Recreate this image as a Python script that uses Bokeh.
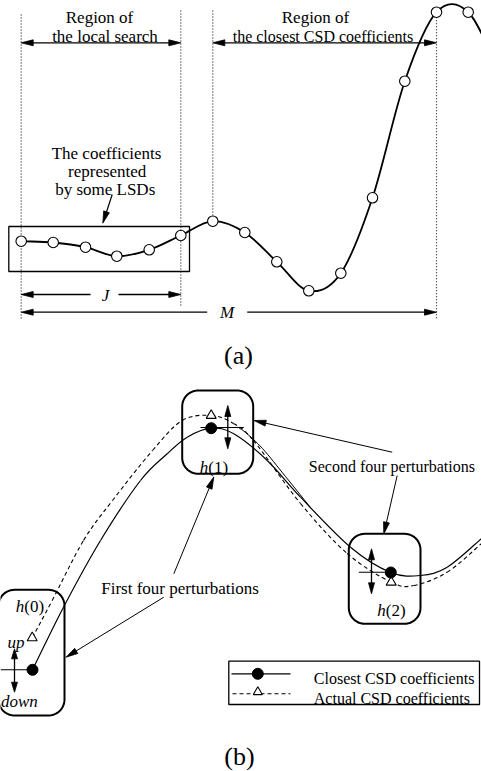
import numpy as np
from bokeh.plotting import figure
from bokeh.models import Range1d
from bokeh.core.properties import value
from bokeh.embed import file_html
from bokeh.resources import INLINE

W, H = 481, 771
FONT = value("Liberation Serif")

# ---------------- Panel (a): coefficient values (pixel space of the diagram) -------------
coef_x = [20.7, 52.7, 85.0, 116.3, 148.7, 180.3, 212.3, 244.3, 276.3, 308.3, 340.3, 372.0, 404.3, 436.0, 467.7]
coef_y = [240.7, 242.0, 246.7, 255.7, 249.3, 235.0, 220.7, 232.0, 261.3, 290.3, 272.7, 197.3, 80.7, 11.7, 11.7]
tail_x = [499.4]          # continuation of the curve past the right edge
tail_y = [72.0]

# ---------------- Panel (b): traced curves -------------------------------------------------
closest_x = [32.0, 63.0, 100.0, 140.0, 166.7, 186.7, 210.7, 233.3, 266.7, 300.0, 350.0, 390.3, 420.0, 446.7, 481.0, 500.0]
closest_y = [669.3, 606.7, 540.0, 480.0, 453.3, 436.7, 427.7, 433.3, 460.0, 496.7, 546.7, 572.0, 575.0, 566.7, 538.0, 520.0]
actual_x = [31.7, 51.7, 83.0, 112.0, 152.0, 181.7, 210.7, 233.0, 253.0, 300.0, 346.7, 390.7, 413.3, 446.7, 481.0, 500.0]
actual_y = [637.3, 600.0, 540.0, 500.0, 450.0, 420.0, 415.0, 423.0, 440.0, 503.0, 553.0, 581.7, 585.0, 571.7, 543.0, 525.0]
second_x = [238.0, 245.0, 262.0, 285.0, 310.0]
second_y = [427.0, 432.0, 448.0, 476.0, 507.0]

# h(k) points: closest (dots) and actual (triangles)
h_dot_x = [32.0, 210.7, 390.3]
h_dot_y = [669.3, 427.7, 572.0]
h_tri_x = [31.7, 210.7, 390.7]
h_tri_y = [637.3, 415.0, 581.7]
h_names = ["0", "1", "2"]


def smooth(xs, ys):
    """Catmull-Rom -> cubic bezier control points."""
    xs = np.asarray(xs, float)
    ys = np.asarray(ys, float)
    px = np.concatenate([[2 * xs[0] - xs[1]], xs, [2 * xs[-1] - xs[-2]]])
    py = np.concatenate([[2 * ys[0] - ys[1]], ys, [2 * ys[-1] - ys[-2]]])
    return dict(
        x0=px[1:-2], y0=py[1:-2], x1=px[2:-1], y1=py[2:-1],
        cx0=px[1:-2] + (px[2:-1] - px[0:-3]) / 6, cy0=py[1:-2] + (py[2:-1] - py[0:-3]) / 6,
        cx1=px[2:-1] - (px[3:] - px[1:-2]) / 6, cy1=py[2:-1] - (py[3:] - py[1:-2]) / 6,
    )


def head(tx, ty, fx, fy, L=12.0, hw=3.0):
    dx, dy = tx - fx, ty - fy
    d = np.hypot(dx, dy)
    ux, uy = dx / d, dy / d
    bx, by = tx - L * ux, ty - L * uy
    return [tx, bx - hw * uy, bx + hw * uy], [ty, by + hw * ux, by - hw * ux]


def rounded(x0, x1, y0, y1, r, n=14):
    xs, ys = [], []
    for cx, cy, a0, a1 in [(x1 - r, y0 + r, -90, 0), (x1 - r, y1 - r, 0, 90),
                           (x0 + r, y1 - r, 90, 180), (x0 + r, y0 + r, 180, 270)]:
        t = np.radians(np.linspace(a0, a1, n))
        xs.extend(cx + r * np.cos(t))
        ys.extend(cy + r * np.sin(t))
    xs.append(xs[0]); ys.append(ys[0])
    return xs, ys


p = figure(width=W, height=H, x_range=Range1d(0, W), y_range=Range1d(H, 0),
           output_backend="svg", toolbar_location=None, min_border=0,
           x_axis_location=None, y_axis_location=None)
p.xgrid.visible = False
p.ygrid.visible = False
p.outline_line_color = None
p.background_fill_color = "white"
p.border_fill_color = "white"
p.styles = {"position": "absolute", "left": "0px", "top": "0px"}

BODY = "16px"
SMALL = "17px"


def txt(x, y, s, size=BODY, align="center", baseline="alphabetic", style="normal"):
    p.text(x=[x], y=[y], text=[s], text_font=FONT, text_font_size=size,
           text_align=align, text_baseline=baseline, text_font_style=style, text_color="black")


def arrow(fx, fy, tx, ty, width=1.3, double=False, L=12.0, hw=3.0):
    sx0, sy0 = fx, fy
    d = np.hypot(tx - fx, ty - fy)
    ux, uy = (tx - fx) / d, (ty - fy) / d
    sx1, sy1 = tx - ux * L * 0.5, ty - uy * L * 0.5
    heads_x, heads_y = [], []
    hx, hy = head(tx, ty, fx, fy, L, hw)
    heads_x.append(hx); heads_y.append(hy)
    if double:
        sx0, sy0 = fx + ux * L * 0.5, fy + uy * L * 0.5
        hx, hy = head(fx, fy, tx, ty, L, hw)
        heads_x.append(hx); heads_y.append(hy)
    p.segment(x0=[sx0], y0=[sy0], x1=[sx1], y1=[sy1], line_color="black", line_width=width)
    p.patches(xs=heads_x, ys=heads_y, fill_color="black", line_color="black", line_width=0.8)


# ======================= Panel (a) =======================
p.segment(x0=[coef_x[0], coef_x[5], coef_x[6], coef_x[13]],
          y0=[14, 10, 10, coef_y[13] + 5],
          x1=[coef_x[0], coef_x[5], coef_x[6], coef_x[13]],
          y1=[318, 305, coef_y[6] - 6, 319],
          line_color="#222222", line_width=1.2, line_dash="1 2")

cv = smooth(coef_x + tail_x, coef_y + tail_y)
p.bezier(line_color="black", line_width=1.8, **cv)
p.scatter(coef_x, coef_y, marker="circle", size=10.5, fill_color="white",
          line_color="black", line_width=1.1)

p.quad(left=[8.3], right=[189.0], top=[226.0], bottom=[271.0], fill_color=None,
       line_color="black", line_width=1.3)

arrow(coef_x[0], 42.3, coef_x[5], 42.3, double=True)
arrow(coef_x[6], 42.3, coef_x[13], 42.3, double=True)
txt(99, 17.3, "Region of", size=SMALL)
txt(104.5, 35.5, "the local search", size=SMALL)
txt(315, 17.3, "Region of", size=SMALL)
txt(322.5, 35.5, "the closest CSD coefficients")

txt(106, 153.3, "The coefficients", size=SMALL)
txt(106.7, 171.3, "represented", size=SMALL)
txt(104.7, 189.3, "by some LSDs", size=SMALL)
arrow(111.7, 194.0, 102.3, 222.7, width=1.2)

arrow(90.0, 294.0, coef_x[0], 294.0)
arrow(118.0, 294.0, coef_x[5], 294.0)
txt(105, 294.5, "J", size=SMALL, baseline="middle", style="italic")
arrow(206.7, 311.7, coef_x[0], 311.7)
arrow(246.7, 311.7, coef_x[13], 311.7)
txt(226.7, 312.0, "M", size=SMALL, baseline="middle", style="italic")

txt(238, 355, "(a)", size="26px")

# ======================= Panel (b) =======================
p.bezier(line_color="black", line_width=1.2, **smooth(closest_x, closest_y))
p.bezier(line_color="black", line_width=1.1, line_dash="4 3", **smooth(actual_x, actual_y))
p.bezier(line_color="black", line_width=1.0, **smooth(second_x, second_y))

p.segment(x0=[0.0, 200.0, 358.3], y0=[h_dot_y[0], 427.0, 571.7],
          x1=[h_dot_x[0], 243.3, h_dot_x[2]], y1=[h_dot_y[0], 427.0, 571.7],
          line_color="black", line_width=1.1)

boxes = [(-2.0, 64.0, 589.3, 715.0), (181.7, 252.7, 390.0, 473.3), (348.3, 420.0, 533.3, 623.3)]
bx, by = [], []
for b in boxes:
    xs, ys = rounded(*b, r=16)
    bx.append(xs); by.append(ys)
p.multi_line(xs=bx, ys=by, line_color="black", line_width=2.0)

arrow(14.0, 669.3, 14.0, 648.3, L=10, hw=3)
arrow(14.0, 669.3, 14.0, 691.7, L=10, hw=3)
arrow(227.3, 405.0, 227.3, 448.3, double=True, L=11, hw=3)
arrow(371.0, 548.3, 371.0, 593.3, double=True, L=11, hw=3)

p.scatter(h_tri_x, h_tri_y, marker="triangle", size=10, fill_color="white",
          line_color="black", line_width=1.1)
p.scatter(h_dot_x, h_dot_y, marker="circle", size=11, fill_color="black", line_color="black")

h_lab_x = [29.3, 213.3, 390.8]
h_lab_y = [606.0, 467.3, 610.0]
for lx, ly, nm in zip(h_lab_x, h_lab_y, h_names):
    txt(lx - 5.5, ly, "h", size=SMALL, align="right", style="italic")
    txt(lx - 5.5, ly, "(" + nm + ")", size=SMALL, align="left")
txt(24, 641.7, "up", size=SMALL, align="right", style="italic")
txt(0.5, 701, "down", size=SMALL, align="left", style="italic")

txt(100.7, 587.7, "First four perturbations", size=SMALL, align="left")
arrow(173.3, 573.3, 213.3, 476.5, width=1.0)
arrow(163.3, 596.7, 65.5, 656.7, width=1.0)
txt(308.3, 466.0, "Second four perturbations", align="left")
arrow(391.7, 451.7, 253.5, 420.0, width=1.0)
arrow(396.7, 475.0, 383.3, 533.5, width=1.0)

p.quad(left=[228.3], right=[479.0], top=[660.7], bottom=[704.0], fill_color="white",
       line_color="black", line_width=1.3)
p.segment(x0=[231.0], y0=[673.3], x1=[290.0], y1=[673.3], line_color="black", line_width=1.2)
p.segment(x0=[232.0], y0=[693.3], x1=[290.0], y1=[693.3], line_color="black", line_width=1.1, line_dash="4 3")
p.scatter([257.3], [673.3], marker="circle", size=11, fill_color="black", line_color="black")
p.scatter([257.3], [691.5], marker="triangle", size=9, fill_color="white", line_color="black", line_width=1.1)
txt(313.3, 678.0, "Closest CSD coefficients", align="left")
txt(313.3, 697.5, "Actual CSD coefficients", align="left")

txt(239, 755.5, "(b)", size="26px")

open("out.html", "w").write(file_html(p, INLINE))
